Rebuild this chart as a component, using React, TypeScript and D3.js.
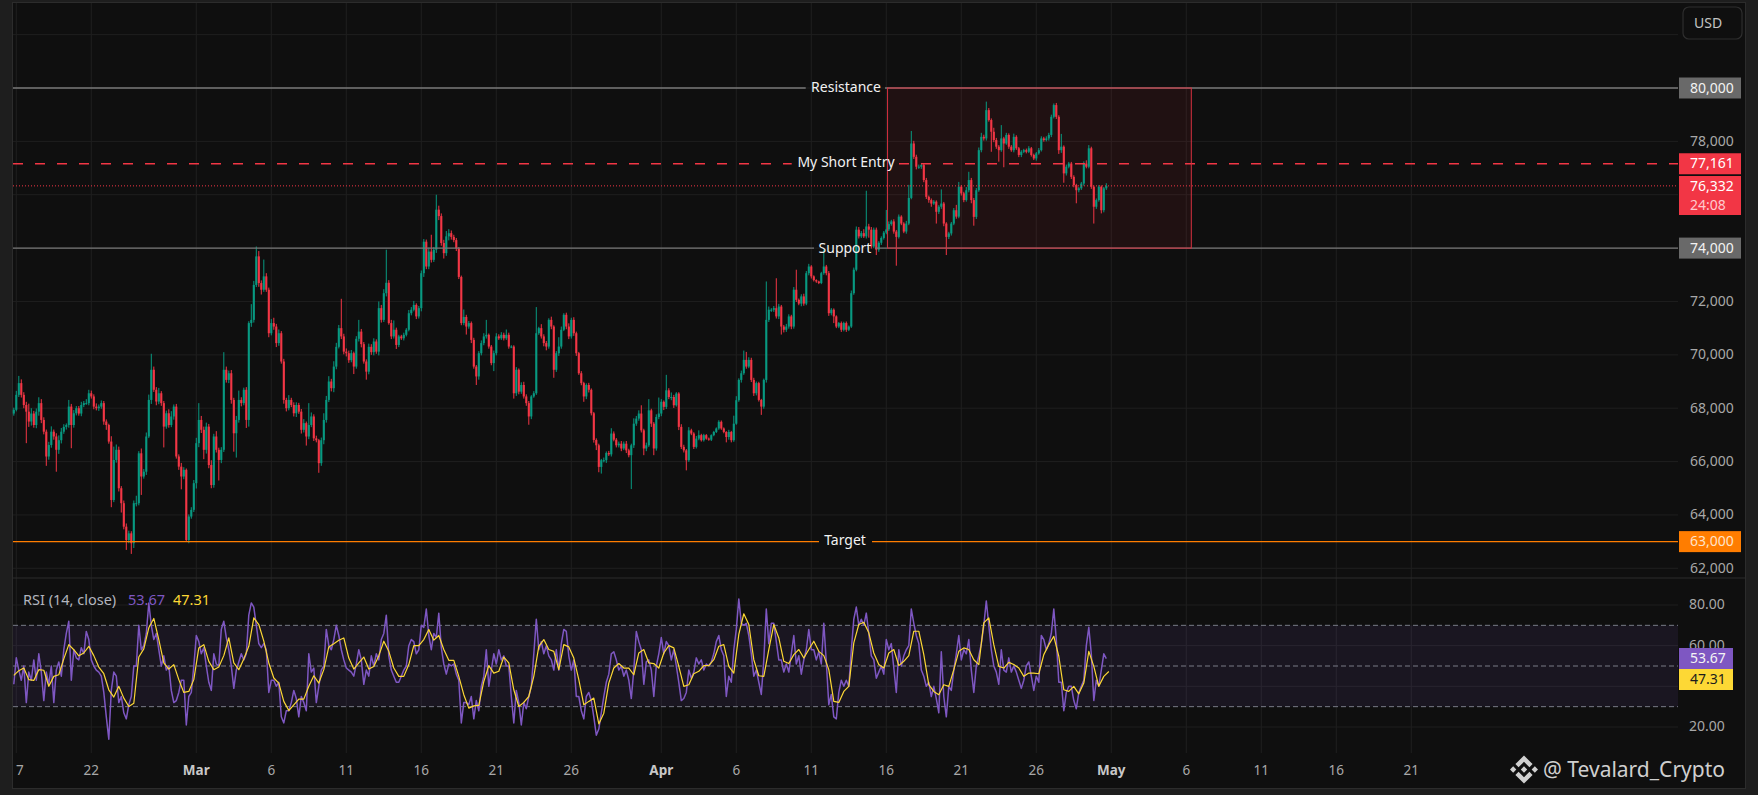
import React from "react";
import * as d3 from "d3";

const W = 1758, H = 795;
const firstOpen = 6780; // tens of USD
// 4-hour closes, tens of USD
const closes = [
6794,6850,6894,6850,6812,6787,6750,6780,6737,6787,
6819,6756,6712,6619,6662,6712,6694,6644,6680,6712,
6730,6737,6806,6737,6781,6800,6780,6812,6819,6819,
6856,6844,6806,6800,6806,6819,6750,6737,6675,6456,
6606,6644,6500,6444,6356,6306,6331,6294,6444,6444,
6631,6544,6562,6694,6831,6944,6869,6825,6856,6819,
6731,6781,6737,6769,6806,6619,6581,6544,6569,6306,
6394,6419,6519,6669,6756,6719,6644,6731,6587,6512,
6694,6644,6606,6644,6944,6906,6931,6831,6706,6756,
6831,6819,6869,6756,7119,7131,7262,7369,7269,7244,
7294,7244,7081,7119,7106,7044,7081,6975,6831,6800,
6831,6812,6781,6812,6787,6719,6744,6694,6737,6769,
6687,6680,6594,6680,6756,6831,6900,6875,6956,7030,
7100,7069,7012,7006,6980,7006,6956,7060,7087,7040,
6975,6937,7030,7010,7050,7012,7175,7131,7231,7270,
7119,7069,7094,7037,7069,7062,7075,7094,7156,7169,
7187,7144,7175,7306,7424,7331,7387,7356,7394,7544,
7520,7419,7381,7444,7456,7442,7430,7399,7292,7119,
7142,7106,7119,7056,6956,6919,7006,7044,7069,7075,
7031,6969,7006,7069,7062,7075,7062,7075,7031,7031,
6856,6944,6862,6887,6844,6819,6769,6844,6856,7081,
7100,7069,7044,7031,7131,7106,6944,7006,7031,7094,
7150,7106,7069,7131,7081,7006,6931,6894,6844,6887,
6869,6781,6681,6661,6580,6605,6605,6632,6627,6705,
6682,6661,6667,6649,6667,6642,6624,6661,6742,6761,
6780,6717,6649,6661,6792,6742,6649,6767,6780,6824,
6805,6867,6842,6842,6811,6855,6730,6655,6642,6605,
6717,6705,6655,6686,6699,6680,6699,6686,6682,6699,
6711,6724,6749,6724,6711,6692,6711,6680,6742,6830,
6906,6931,6981,6956,6981,6906,6856,6894,6831,6806,
6906,7131,7169,7169,7175,7144,7181,7106,7094,7106,
7144,7106,7244,7206,7192,7219,7192,7306,7331,7294,
7280,7275,7269,7306,7331,7306,7156,7169,7144,7106,
7119,7094,7119,7094,7106,7231,7319,7469,7444,7456,
7444,7481,7469,7406,7469,7394,7420,7438,7458,7470,
7490,7500,7462,7442,7518,7492,7462,7492,7588,7792,
7742,7705,7705,7711,7655,7592,7580,7567,7574,7536,
7555,7567,7492,7442,7455,7492,7542,7518,7630,7605,
7580,7617,7655,7580,7517,7617,7767,7817,7811,7917,
7880,7836,7805,7780,7767,7811,7792,7824,7780,7767,
7817,7774,7749,7761,7767,7761,7774,7749,7736,7755,
7767,7811,7805,7811,7824,7892,7936,7892,7767,7780,
7680,7705,7717,7667,7636,7617,7624,7642,7717,7705,
7774,7630,7555,7580,7630,7542,7624,7633.2,
];
const upperWicks = [
8,15,27,14,10,12,30,20,10,12,
22,15,10,8,12,20,8,12,18,14,
10,6,25,10,12,8,8,12,8,15,
13,10,8,12,8,10,8,8,5,20,
50,20,12,8,10,12,10,8,10,28,
8,18,10,15,20,60,12,10,20,8,
8,10,15,20,8,10,8,14,10,5,
8,10,12,20,63,15,12,15,10,18,
10,20,8,10,66,12,10,12,8,15,
35,10,8,10,7,59,15,37,20,10,
63,12,8,15,20,10,14,8,10,8,
18,8,10,10,8,10,15,6,82,15,
8,10,5,10,25,15,20,10,20,15,
12,110,10,12,10,12,6,10,44,10,
8,8,12,10,12,8,25,12,15,124,
10,12,35,8,6,6,8,6,12,10,
15,6,8,10,10,8,15,63,10,56,
15,10,12,20,15,10,8,8,5,5,
28,8,8,6,8,6,8,10,12,56,
5,6,10,12,8,10,8,20,8,5,
5,10,5,10,12,8,8,5,8,98,
5,15,8,8,6,12,5,8,35,12,
6,8,12,8,10,6,5,8,5,6,
8,5,5,6,6,5,10,6,8,20,
8,6,8,10,8,10,6,6,20,10,
12,31,6,10,42,6,6,10,60,10,
5,58,8,17,8,5,5,10,8,5,
12,6,5,10,18,5,5,4,4,3,
4,4,6,5,4,3,8,4,30,15,
6,10,35,30,10,8,8,6,5,4,
5,144,12,6,8,112,10,6,6,10,
8,6,10,75,5,8,10,8,10,5,
4,3,3,5,63,6,8,6,5,4,
4,6,5,6,4,10,8,12,10,8,
15,134,10,10,8,8,6,6,6,73,
10,6,8,6,8,5,5,10,49,47,
10,8,8,6,8,8,5,6,6,5,
6,53,6,5,6,6,8,20,18,6,
6,12,31,8,8,8,10,15,8,32,
8,6,15,8,6,50,6,8,6,6,
12,6,5,6,5,6,8,5,5,5,
8,8,6,8,8,8,6,8,6,48,
5,8,6,6,6,5,5,6,8,12,
12,6,5,6,6,5,5,10,
];
const lowerWicks = [
8,6,8,10,12,118,20,15,10,12,
15,12,10,35,12,10,12,82,15,12,
8,10,10,87,10,8,8,10,8,6,
8,8,10,8,10,8,12,18,8,27,
8,10,12,35,10,37,12,40,18,12,
8,69,8,12,6,15,8,14,10,10,
78,8,10,8,12,8,12,48,10,4,
12,8,8,20,15,12,35,14,12,12,
10,10,77,12,8,10,12,14,69,91,
10,12,8,30,25,14,10,8,14,18,
8,8,15,8,12,15,10,8,14,12,
8,8,12,14,8,14,10,34,10,8,
10,8,36,10,15,10,8,12,15,10,
6,10,10,12,10,8,28,8,10,12,
8,30,10,10,12,8,14,10,8,12,
6,10,8,15,8,6,8,6,6,8,
6,10,8,12,14,10,10,10,8,12,
15,10,20,10,15,10,8,10,8,8,
8,30,8,12,8,32,12,8,8,8,
8,8,30,8,6,6,8,6,8,6,
20,10,10,8,8,10,31,10,5,6,
6,8,12,14,8,10,30,8,10,8,
5,10,10,8,10,10,6,8,20,10,
10,8,10,18,20,25,8,10,6,8,
6,8,8,10,6,10,8,127,10,8,
8,8,25,10,6,12,25,8,8,10,
12,8,8,12,10,5,12,8,8,38,
6,6,8,6,6,5,5,4,4,5,
4,4,5,5,5,20,10,8,6,4,
6,10,6,8,6,8,10,8,6,31,
8,10,8,8,8,8,10,30,10,8,
8,10,8,8,6,10,8,6,8,8,
5,5,4,4,6,8,10,8,25,6,
6,8,6,8,5,5,6,6,8,6,
6,8,30,8,6,20,8,8,6,6,
6,6,8,108,6,6,6,8,6,5,
8,10,8,8,8,8,10,12,5,44,
8,8,10,68,8,8,6,8,6,8,
8,6,8,12,33,8,6,8,8,8,
6,75,8,8,43,6,89,5,8,6,
8,6,8,8,5,6,5,6,6,8,
5,5,6,5,8,8,6,8,14,10,
35,8,6,8,8,49,8,6,8,6,
6,8,63,8,6,12,8,6,
];
// RSI(14), 4-hour samples
const rsiValues = [
41,54,48,43,50,32,47,43,53,43,
56,47,33,47,41,50,32,48,52,45,
58,66,72,43,58,54,53,59,56,67,
63,53,50,48,47,45,37,25,14,38,
47,45,32,35,27,24,31,35,50,50,
70,58,60,66,81,70,63,66,58,50,
55,48,50,38,32,33,37,43,43,21,
35,37,50,65,62,56,59,50,42,38,
56,51,50,68,72,64,58,50,39,48,
52,56,53,56,75,81,79,70,61,59,
61,58,37,43,43,40,42,25,22,28,
28,32,38,34,25,35,32,28,56,47,
49,32,40,48,50,68,60,58,63,70,
65,58,53,49,48,47,45,51,58,53,
41,48,45,55,50,56,53,63,66,75,
55,48,45,42,42,45,48,50,60,63,
62,56,58,70,69,78,65,58,66,64,
76,59,51,46,51,50,51,46,43,22,
32,32,31,35,24,33,28,40,45,58,
40,48,56,51,58,53,55,50,50,35,
22,38,32,21,32,29,35,40,56,73,
58,62,56,60,55,53,48,58,48,
61,68,67,55,48,53,35,35,28,24,
35,37,33,25,16,19,27,35,42,46,
56,57,53,48,50,45,48,43,34,48,
67,62,58,41,52,53,48,35,50,56,
64,56,62,60,53,58,50,42,33,34,
37,48,44,47,54,51,53,48,51,50,
52,56,62,65,58,55,35,45,42,58,
68,83,71,70,71,65,56,45,48,42,
36,53,78,61,71,71,62,53,53,47,
51,47,56,65,51,55,46,53,58,68,
58,58,53,57,51,71,52,31,36,25,
24,37,43,40,43,40,58,73,79,70,
73,70,76,66,55,53,44,47,50,46,
63,58,61,49,37,58,50,55,58,60,
78,71,65,61,48,45,40,42,35,40,
34,27,57,35,25,40,38,48,56,65,
53,58,56,63,48,37,50,55,61,70,
82,70,58,50,47,41,58,48,47,54,
47,50,47,43,39,43,50,52,45,38,
45,42,65,63,58,61,66,78,63,42,
42,28,37,40,40,33,29,37,40,43,
60,69,56,33,43,40,48,56,53.67,
];
// RSI moving average, 8-hour samples
const rsiMa = [
45.4,47.7,49,43.3,42.9,48.2,47.9,40,44.9,45.7,
53.5,60.5,58,55,56.4,59.7,55.1,49.5,46.2,38.3,
34.7,40,34.2,30.1,31.7,54.4,58.4,68.8,73.4,63,
51.5,48.5,50.7,43.3,37,37.5,43.3,58.9,60.5,52.3,
48.2,49.5,55.1,63.8,51.5,48.2,53.5,59.7,73.7,70.4,
62.2,51.5,44.1,41.6,32.6,28.1,30.9,33.7,33.7,40,
45.2,41.6,48.2,59.4,61,62.7,63.8,53.9,48.5,51.5,
54.4,48.5,49.8,55.1,62.2,57.2,49,44.9,44.9,50.7,
60,60,63,67.9,62.7,65,58.1,52.8,52.8,44.9,
35.9,29.3,30.4,30.6,42.4,50.2,46.5,47.4,54.4,51.5,
38.3,30.1,32.1,35,44.9,59.7,63,58.1,57.2,48.2,
60.5,59.4,53.9,43.3,30.9,32.6,34.2,21.5,26.8,41.6,
49,51.2,49,49,45.7,56.4,58.1,51.5,51.2,49,
56.4,60,58.9,49.8,40,40.8,46.2,47.4,50.2,50.2,
53.1,59.7,60.5,49.8,46.5,65.5,75.7,70.4,53.1,45.2,
44.9,58.1,70.4,63.8,52.3,51.2,55.6,58.1,53.9,58.1,
62.2,57.2,55.1,48.2,32.6,32.1,37.5,40,61.4,70.4,
71.5,66.3,56.4,50.7,49,56.4,58.1,50.2,52.3,55.1,
67.1,67.1,55.6,40.8,37.5,35.9,40.8,40,48.2,57.2,
58.9,58.1,53.1,50.7,71.2,73.7,60.5,49.8,49,51.8,
50.7,49,44.9,46.5,46.5,46.2,55.6,60.5,64.6,54.8,
38.3,37.5,40,36.3,41.6,57.2,49.8,40,44.9,47.31,
];

const priceTicks = [82000, 80000, 78000, 76000, 74000, 72000, 70000, 68000, 66000, 64000, 62000];
const priceAxisLabels = [78000, 72000, 70000, 68000, 66000, 64000, 62000];
const rsiTicks = [80, 60, 40, 20];
const bandLevels = [70, 50, 30];
const dateTicks = [
  ["2026-02-17", "7"], ["2026-02-22", "22"], ["2026-03-01", "Mar"], ["2026-03-06", "6"], ["2026-03-11", "11"],
  ["2026-03-16", "16"], ["2026-03-21", "21"], ["2026-03-26", "26"], ["2026-04-01", "Apr"], ["2026-04-06", "6"],
  ["2026-04-11", "11"], ["2026-04-16", "16"], ["2026-04-21", "21"], ["2026-04-26", "26"], ["2026-05-01", "May"],
  ["2026-05-06", "6"], ["2026-05-11", "11"], ["2026-05-16", "16"], ["2026-05-21", "21"],
];
const boldDates = ["Mar", "Apr", "May"];
const boxStart = "2026-04-16T02:00:00Z";
const boxEnd = "2026-05-06T08:00:00Z";
const resistance = 80000, support = 74000, entry = 77161, target = 63000, last = 76332;

const d = (s: string) => new Date(s + "T00:00:00Z");
const start = new Date("2026-02-16T20:00:00Z").getTime();
const H4 = 4 * 3600e3;

const L = 13, R = 1678;
const x = d3.scaleUtc().domain([d("2026-02-17"), d("2026-05-21")]).range([16.3, 1411.3]);
const y = d3.scaleLinear().domain([80000, 62000]).range([88, 568.3]);
const yr = d3.scaleLinear().domain([80, 20]).range([605, 727]);
const fmt = d3.format(",");

const FONT = "'Noto Sans', sans-serif";
const RED = "#f23645", GREEN = "#089981";

function HLine({ v, gapA, gapB, color, dash, sw }: any) {
  const yy = y(v);
  const common = { stroke: color, strokeWidth: sw, strokeDasharray: dash };
  return gapA != null ? (
    <g>
      <line x1={L} x2={gapA} y1={yy} y2={yy} {...common} />
      <line x1={gapB} x2={R} y1={yy} y2={yy} {...common} />
    </g>
  ) : <line x1={L} x2={R} y1={yy} y2={yy} {...common} />;
}

function Tag({ x0, x1, yc, h, fill, text, color, sub }: any) {
  const top = yc - h / 2;
  return (
    <g>
      <rect x={x0} y={top} width={x1 - x0} height={h} fill={fill} />
      <text x={1690} y={sub ? top + 9.5 : yc - 1} dominantBaseline="central" fontSize={14} fill={color}>{text}</text>
      {sub && <text x={1690} y={top + 28} dominantBaseline="central" fontSize={14} fill="#ffc9ce">{sub}</text>}
    </g>
  );
}

export default function App() {
  const t = (i: number) => new Date(start + i * H4);
  const candles = closes.map((c, i) => {
    const o = i === 0 ? firstOpen : closes[i - 1];
    return {
      i, o: o * 10, c: c * 10,
      h: (Math.max(o, c) + upperWicks[i]) * 10,
      l: (Math.min(o, c) - lowerWicks[i]) * 10,
    };
  });
  const rsiLine = d3.line<number>().x((_, i) => x(t(i))).y(v => yr(v));
  const maLine = d3.line<number>().x((_, i) => x(t(i * 2))).y(v => yr(v));
  const bx0 = x(new Date(boxStart)), bx1 = x(new Date(boxEnd));
  return (
    <svg width={W} height={H} viewBox={`0 0 ${W} ${H}`} style={{ position: "fixed", left: 0, top: 0, display: "block" }} fontFamily={FONT}>
      <rect width={W} height={H} fill="#1e1e1e" />
      <rect x={12.5} y={2.5} width={1733} height={786} fill="#0f0f0f" stroke="#2c2c2c" />
      {/* grid */}
      <g stroke="#1f1f1f" strokeWidth={1}>
        {priceTicks.map(p => <line key={p} x1={L} x2={R} y1={y(p)} y2={y(p)} />)}
        {rsiTicks.map(p => <line key={p} x1={L} x2={R} y1={yr(p)} y2={yr(p)} />)}
        {dateTicks.map(([s]) => <line key={s} x1={x(d(s))} x2={x(d(s))} y1={3} y2={753} />)}
      </g>
      <line x1={L} x2={1745} y1={578} y2={578} stroke="#2c2c2c" />
      {/* box */}
      <rect x={bx0} y={y(resistance)} width={bx1 - bx0} height={y(support) - y(resistance)} fill="#f23645" fillOpacity={0.08} />
      {/* candles */}
      {candles.map(k => {
        const col = k.c >= k.o ? GREEN : RED;
        const cx = x(t(k.i));
        const top = y(Math.max(k.o, k.c));
        const h = Math.max(1, y(Math.min(k.o, k.c)) - top);
        return (
          <g key={k.i} fill={col}>
            <rect x={cx - 0.5} width={1} y={y(k.h)} height={y(k.l) - y(k.h)} />
            <rect x={cx - 1.05} width={2.1} y={top} height={h} />
          </g>
        );
      })}
      {/* level lines */}
      <HLine v={resistance} gapA={805.7} gapB={885} color="#787878" sw={1.4} />
      <HLine v={support} gapA={814} gapB={875} color="#787878" sw={1.4} />
      <HLine v={target} gapA={819} gapB={872} color="#ff7d00" sw={1.2} />
      <HLine v={entry} gapA={791.7} gapB={899} color={RED} sw={1.6} dash="10 12" />
      <HLine v={last} color={RED} sw={1} dash="1 2" />
      <rect x={bx0} y={y(resistance)} width={bx1 - bx0} height={y(support) - y(resistance)} fill="none" stroke="#d5303f" strokeWidth={1} />
      {/* labels */}
      <g fill="#f2f2f2" fontSize={14} textAnchor="middle" dominantBaseline="central">
        <text x={846} y={y(resistance) - 2}>Resistance</text>
        <text x={846} y={y(entry) - 2}>My Short Entry</text>
        <text x={845} y={y(support) - 1}>Support</text>
        <text x={845} y={y(target) - 2}>Target</text>
      </g>
      {/* price axis */}
      <g fill="#a8a8a8" fontSize={14} dominantBaseline="central">
        {priceAxisLabels.map(p => <text key={p} x={1690} y={y(p) - 1}>{fmt(p)}</text>)}
      </g>
      <Tag x0={1679} x1={1741} yc={y(resistance)} h={21} fill="#696969" text={fmt(resistance)} color="#f2f2f2" />
      <Tag x0={1679} x1={1741} yc={y(entry)} h={21} fill={RED} text={fmt(entry)} color="#fff" />
      <Tag x0={1679} x1={1741} yc={195.5} h={39} fill={RED} text={fmt(last)} color="#fff" sub="24:08" />
      <Tag x0={1679} x1={1741} yc={y(support)} h={21} fill="#696969" text={fmt(support)} color="#f2f2f2" />
      <Tag x0={1679} x1={1741} yc={y(target)} h={21} fill="#ff7d00" text={fmt(target)} color="#ffe3c8" />
      <rect x={1683} y={7} width={59} height={32} rx={6} fill="#0f0f0f" stroke="#2e2e2e" strokeWidth={1.2} />
      <text x={1694} y={22.5} dominantBaseline="central" fontSize={14} fill="#c4c4c4">USD</text>
      {/* RSI */}
      <rect x={L} y={yr(70)} width={R - L} height={yr(30) - yr(70)} fill="#7e57c2" fillOpacity={0.1} />
      {bandLevels.map(b => <line key={b} x1={L} x2={R} y1={yr(b)} y2={yr(b)} stroke="#787b86" strokeWidth={1} strokeDasharray="5 3" />)}
      <path d={rsiLine(rsiValues) as string} fill="none" stroke="#7e57c2" strokeWidth={1.5} strokeLinejoin="round" />
      <path d={maLine(rsiMa) as string} fill="none" stroke="#fdd835" strokeWidth={1.2} strokeLinejoin="round" />
      <g fontSize={14.5} dominantBaseline="central">
        <text x={23} y={598.5} fill="#b2b5be">RSI (14, close)</text>
        <text x={128} y={598.5} fill="#7e57c2">53.67</text>
        <text x={173} y={598.5} fill="#fdd835">47.31</text>
      </g>
      <g fill="#a8a8a8" fontSize={14} dominantBaseline="central">
        {rsiTicks.map(p => <text key={p} x={1689} y={yr(p) - 1.5}>{d3.format(".2f")(p)}</text>)}
      </g>
      <rect x={1679} y={648} width={54} height={21} fill="#7e57c2" />
      <text x={1690} y={657.5} fontSize={14} fill="#f4f4f4" dominantBaseline="central">{rsiValues[rsiValues.length - 1].toFixed(2)}</text>
      <rect x={1679} y={669} width={54} height={21} fill="#fdd835" />
      <text x={1690} y={678.5} fontSize={14} fill="#1c1c1c" dominantBaseline="central">{rsiMa[rsiMa.length - 1].toFixed(2)}</text>
      {/* date axis */}
      <g fontSize={13.5} dominantBaseline="central">
        {dateTicks.map(([s, lab], i) => (
          <text key={s} x={i === 0 ? 16 : x(d(s))} y={770} textAnchor={i === 0 ? "start" : "middle"}
            fill={boldDates.includes(lab) ? "#c8c8c8" : "#a8a8a8"} fontWeight={boldDates.includes(lab) ? 700 : 400}>{lab}</text>
        ))}
      </g>
      {/* watermark */}
      <g transform="translate(1510,755.5) scale(0.221)" fill="#d0d0d0">
        <path d="M38.73,53.2l24.59-24.58,24.6,24.6,14.3-14.31L63.32,0,24.43,38.89Z" />
        <path d="M0,63.31l14.3-14.31,14.31,14.31L14.3,77.61Z" />
        <path d="M38.73,73.41,63.32,98l24.6-24.6,14.31,14.29h0L63.32,126.61,24.43,87.72l0,0Z" />
        <path d="M98,63.31l14.3-14.31,14.31,14.31L112.3,77.61Z" />
        <path d="M77.83,63.3h0L63.32,48.78,52.59,59.5h0l-1.23,1.23-2.54,2.54h0l0,0,14.5,14.5,14.51-14.51h0Z" />
      </g>
      <text x={1543} y={769} fontSize={21} fill="#cfcfcf" dominantBaseline="central">@ Tevalard_Crypto</text>
    </svg>
  );
}
